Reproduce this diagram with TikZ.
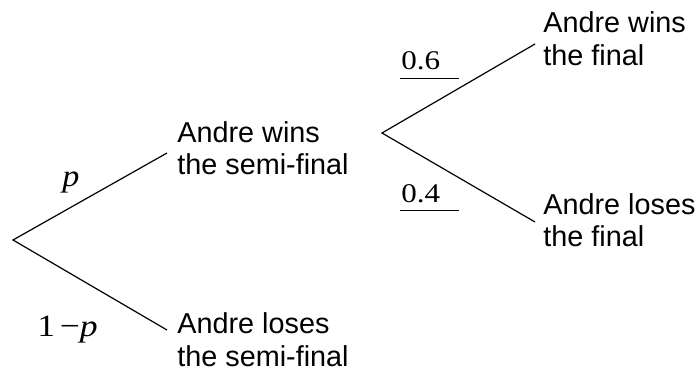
\documentclass[tikz,border=0pt]{standalone}
\usepackage{fontspec}
\setmainfont{Liberation Sans}
\newfontfamily\lblfont{Liberation Serif}
\begin{document}
\begin{tikzpicture}[x=0.5pt,y=-0.5pt,
  branch/.style={line width=0.6pt},
  outcome/.style={anchor=north west, inner sep=0pt, align=left,
    font=\fontsize{14.4}{16.3}\selectfont},
  problbl/.style={inner sep=0pt, font=\lblfont\fontsize{15.5}{17}\selectfont},
  numlbl/.style={anchor=south west, inner xsep=0pt, inner ysep=4pt, text depth=0pt,
    text width=29pt, align=left, font=\lblfont\fontsize{13.5}{15}\selectfont},
  underl/.style={line width=0.5pt}]
\useasboundingbox (0,0) rectangle (699,373);
% first stage
\coordinate (r1) at (13,240);
\coordinate (w1) at (167,153);
\coordinate (l1) at (167,330);
\draw[branch] (w1) -- (r1) -- (l1);
\node[outcome] (tw1) at (177,121) {Andre wins\\the semi-final};
\node[outcome] (tl1) at (177,312.5) {Andre loses\\the semi-final};
\node[problbl, anchor=base] (pp) at (71,186.5) {\scalebox{1.1}[1]{\itshape p}};
\node[problbl, anchor=base west] (pq) at (37,336.7) {\scalebox{1.15}[1]{1\hspace{2pt}\textminus\textit{p}}};
% second stage
\coordinate (r2) at (382,133);
\coordinate (w2) at (535,44);
\coordinate (l2) at (535,222);
\draw[branch] (w2) -- (r2) -- (l2);
\node[outcome] (tw2) at (543,11.5) {Andre wins\\the final};
\node[outcome] (tl2) at (543,193) {Andre loses\\the final};
\node[numlbl] (n6) at (400,78.3) {\hspace{0.5pt}\scalebox{1.15}[1]{0.6}};
\draw[underl] (n6.south west) -- (n6.south east);
\node[numlbl] (n4) at (400,210.7) {\hspace{0.5pt}\scalebox{1.15}[1]{0.4}};
\draw[underl] (n4.south west) -- (n4.south east);
\end{tikzpicture}
\end{document}
